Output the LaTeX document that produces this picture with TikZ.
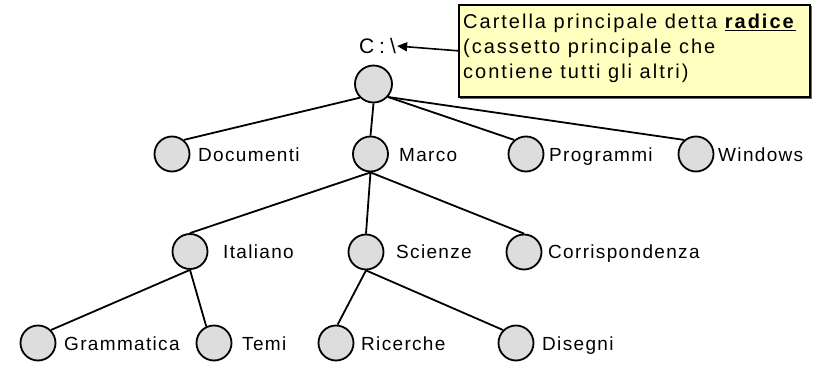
\documentclass[tikz,border=0pt]{standalone}
\usepackage{fontspec}
\setmainfont{Liberation Sans}[LetterSpace=7]
\newfontfamily\notefont{Liberation Sans}[LetterSpace=10]
\newfontfamily\plainfont{Liberation Sans}
\usetikzlibrary{arrows.meta}
\definecolor{nodegray}{RGB}{221,221,221}
\definecolor{notey}{RGB}{255,255,192}
\begin{document}
\begin{tikzpicture}[x=1pt,y=-1pt,
  folder/.style={circle,draw=black,line width=1.8pt,fill=nodegray,minimum size=35pt,inner sep=0pt},
  lbl/.style={anchor=base west,inner sep=0pt,font=\fontsize{19}{22}\selectfont},
  link/.style={draw=black,line width=1.8pt}]
\useasboundingbox (0,0) rectangle (820,367);
% note box
\fill[black!60] (460,6) rectangle (811.5,98.5);
\node[draw=black,fill=notey,line width=1.6pt,minimum width=351pt,minimum height=92pt,anchor=north west,inner sep=0pt] (note) at (458,4) {};
\node[anchor=west,align=left,inner sep=0pt,font=\notefont\fontsize{20}{25}\selectfont] (notetext) at (463,48)
  {Cartella principale detta \underline{\textbf{radice}}\\(cassetto principale che\\contiene tutti gli altri)};
% root label
\node[inner sep=1pt,font=\plainfont\fontsize{21}{24}\selectfont] (croot) at (377.5,46) {C\kern5pt:\kern5pt\textbackslash};
\draw[line width=1.6pt,-{Triangle[length=10pt,width=9pt]}] (note.west) -- (croot.east);
% circles
\node[folder,minimum size=37pt] (root) at (373.5,84) {};
\node[folder] (doc) at (172,154) {};
\node[folder] (marco) at (370.5,154) {};
\node[folder] (prog) at (526,154) {};
\node[folder] (win) at (696,154) {};
\node[folder] (ital) at (190,251.5) {};
\node[folder] (sci) at (366,252) {};
\node[folder] (corr) at (524,252) {};
\node[folder] (gram) at (38,343) {};
\node[folder] (temi) at (214,343) {};
\node[folder] (ric) at (336,343) {};
\node[folder] (dis) at (516,343) {};
% labels
\node[lbl] (ldoc) at (198,161) {Documenti};
\node[lbl] (lmarco) at (399,161) {Marco};
\node[lbl] (lprog) at (549,161) {Programmi};
\node[lbl] (lwin) at (718,161) {Windows};
\node[lbl] (lital) at (223,258.5) {Italiano};
\node[lbl] (lsci) at (396,258.5) {Scienze};
\node[lbl] (lcorr) at (548,258.5) {Corrispondenza};
\node[lbl] (lgram) at (64,350) {Grammatica};
\node[lbl] (ltemi) at (242,350) {Temi};
\node[lbl] (lric) at (361,350) {Ricerche};
\node[lbl] (ldis) at (542,350) {Disegni};
% connectors
\draw[link] (root.225) -- (doc.50);
\draw[link] (root.south) -- (marco.north);
\draw[link] (root.318) -- (prog.130);
\draw[link] (root.318) -- (win.130);
\draw[link] (marco.south) -- (ital.north);
\draw[link] (marco.south) -- (sci.north);
\draw[link] (marco.south) -- (corr.north);
\draw[link] (ital.south) -- (gram.45);
\draw[link] (ital.south) -- (temi.115);
\draw[link] (sci.south) -- (ric.85);
\draw[link] (sci.south) -- (dis.135);
\end{tikzpicture}
\end{document}
